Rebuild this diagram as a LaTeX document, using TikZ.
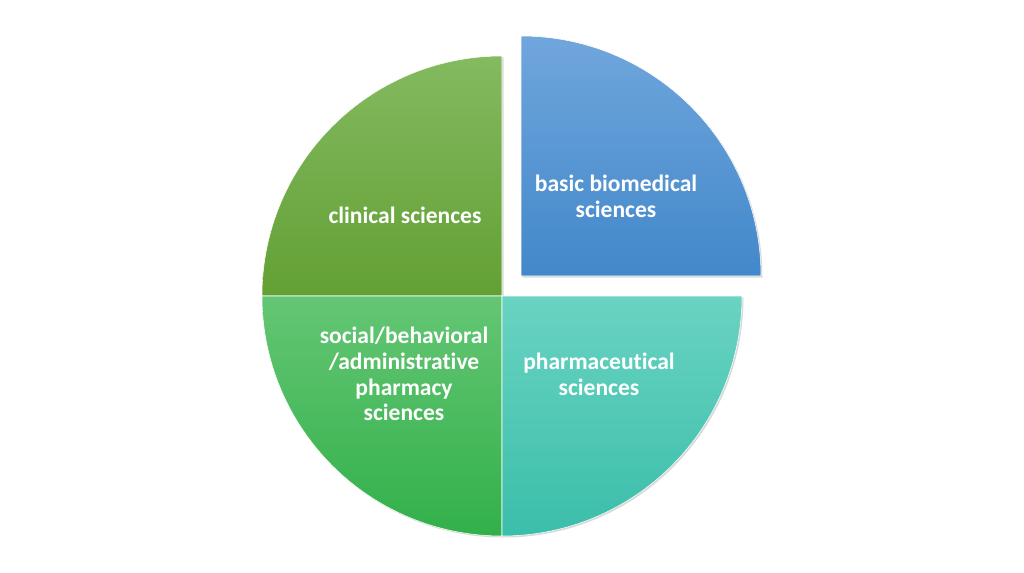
\documentclass[tikz,border=0pt]{standalone}
\usepackage{fontspec}
\setmainfont[Ligatures=NoCommon]{Carlito}
\tikzstyle{quarter}=[draw=white,line width=0.3pt]
\tikzstyle{shadow}=[fill=black,opacity=0.15]
\tikzstyle{sectext}=[text=white,font=\bfseries\fontsize{13.4}{14.7}\selectfont,align=center,inner sep=0pt]

\begin{document}
\begin{tikzpicture}[x=0.02cm,y=0.02cm]
    \useasboundingbox (0,0) rectangle (1024,572);
    \fill[white] (0,0) rectangle (1024,572);
    \coordinate (c) at (502,276);
    \coordinate (cb) at (521,296);

    % soft shadows
    \fill[shadow] ([shift={(1.5,-1.5)}]c) -- ++(0,240) arc (90:360:240) -- cycle;
    \fill[shadow] ([shift={(1.5,-1.5)}]cb) -- ++(240,0) arc (0:90:240) -- cycle;

    \shade[quarter,top color={rgb,255:red,132;green,186;blue,96},bottom color={rgb,255:red,98;green,160;blue,52}]
        (c) -- ++(0,240) arc (90:180:240) -- cycle;
    \shade[quarter,top color={rgb,255:red,100;green,198;blue,116},bottom color={rgb,255:red,50;green,176;blue,74}]
        (c) -- ++(-240,0) arc (180:270:240) -- cycle;
    \shade[quarter,top color={rgb,255:red,106;green,211;blue,194},bottom color={rgb,255:red,58;green,190;blue,170}]
        (c) -- ++(0,-240) arc (270:360:240) -- cycle;
    \shade[quarter,top color={rgb,255:red,112;green,166;blue,220},bottom color={rgb,255:red,66;green,136;blue,202}]
        (cb) -- ++(240,0) arc (0:90:240) -- cycle;

    \node[sectext] (clin) at (405,357) {clinical sciences};
    \node[sectext] (basic) at (616,376) {basic biomedical\\sciences};
    \node[sectext] (social) at (404,198) {social/behavioral\\/administrative\\pharmacy\\sciences};
    \node[sectext] (pharm) at (599,198) {pharmaceutical\\sciences};
\end{tikzpicture}
\end{document}
